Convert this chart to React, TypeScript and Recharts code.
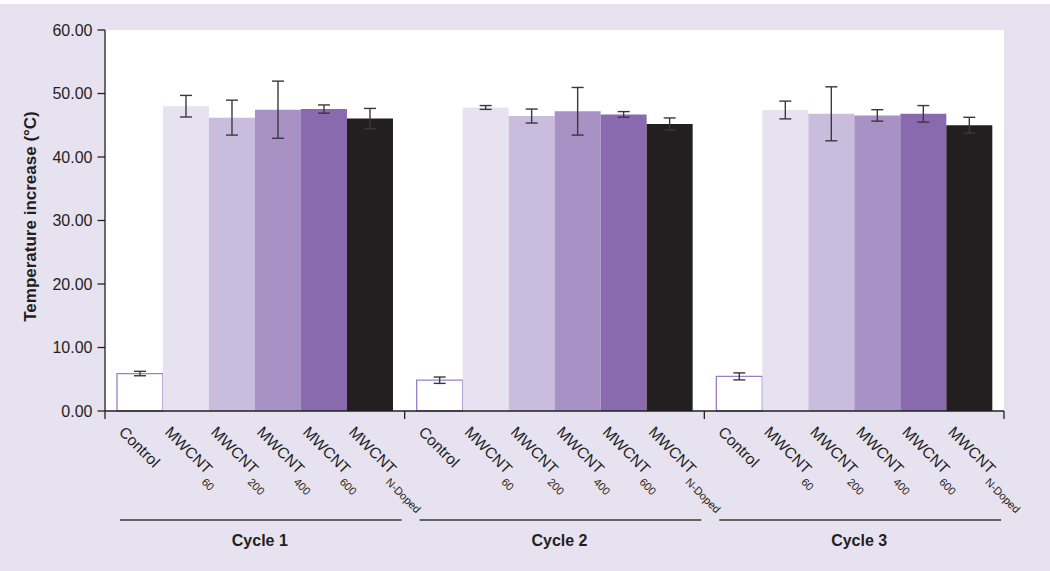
import React from 'react';
import { BarChart, Bar, XAxis, YAxis, CartesianGrid, ErrorBar, LabelList } from 'recharts';

const cycles = ['Cycle 1', 'Cycle 2', 'Cycle 3'];
const yTicks = [0, 10, 20, 30, 40, 50, 60];

const controlVals = [5.9, 4.85, 5.45];
const controlErr = [0.35, 0.5, 0.55];
const m60Vals = [48.0, 47.8, 47.4];
const m60Err = [1.7, 0.3, 1.4];
const m200Vals = [46.2, 46.45, 46.8];
const m200Err = [2.75, 1.1, 4.25];
const m400Vals = [47.45, 47.2, 46.55];
const m400Err = [4.5, 3.75, 0.9];
const m600Vals = [47.55, 46.7, 46.8];
const m600Err = [0.65, 0.45, 1.3];
const ndVals = [46.05, 45.2, 45.0];
const ndErr = [1.6, 0.95, 1.25];

const seriesNames = [
  { key: 'control', main: 'Control', sub: '' },
  { key: 'm60', main: 'MWCNT', sub: '60' },
  { key: 'm200', main: 'MWCNT', sub: '200' },
  { key: 'm400', main: 'MWCNT', sub: '400' },
  { key: 'm600', main: 'MWCNT', sub: '600' },
  { key: 'nd', main: 'MWCNT', sub: 'N-Doped' },
];

const fills: Record<string, string> = {
  control: '#ffffff',
  m60: '#e7e2f0',
  m200: '#c9bcdc',
  m400: '#a891c5',
  m600: '#8a6aae',
  nd: '#231f20',
};

const data = cycles.map((c, i) => ({
  cycle: c,
  control: controlVals[i], controlE: controlErr[i],
  m60: m60Vals[i], m60E: m60Err[i],
  m200: m200Vals[i], m200E: m200Err[i],
  m400: m400Vals[i], m400E: m400Err[i],
  m600: m600Vals[i], m600E: m600Err[i],
  nd: ndVals[i], ndE: ndErr[i],
}));

const W = 1050;
const H = 567;
const X_H = 150;
const MARGIN = { top: 26, right: 46, bottom: 10, left: 0 };
const Y_W = 105;
const PLOT_W = W - MARGIN.left - MARGIN.right - Y_W;
const PLOT_BOTTOM = H - MARGIN.bottom - X_H;
const INK = '#231f20';
const FONT = '"Liberation Sans", Arial, Helvetica, sans-serif';

const BarLabel = (props: any) => {
  const { x, width, y, height, main, sub } = props;
  const bx = Number(x);
  const base = Number(y) + Number(height);
  const px = bx + 1;
  const py = base + 22;
  return (
    <text
      transform={`translate(${px},${py}) rotate(45)`}
      x={0}
      y={0}
      fontFamily={FONT}
      fontSize={15.5}
      fill={INK}
      textAnchor="start"
    >
      {main}
      {sub ? (
        <tspan fontSize={11} dx={2} dy={9}>
          {sub}
        </tspan>
      ) : null}
    </text>
  );
};

const CycleTick = (props: any) => {
  const { x, payload, index } = props;
  const bw = PLOT_W / cycles.length;
  const cx = Number(x);
  const left = cx - bw / 2;
  const right = cx + bw / 2;
  return (
    <g>
      <line x1={left} x2={left} y1={PLOT_BOTTOM} y2={PLOT_BOTTOM + 8} stroke={INK} strokeWidth={1.3} />
      {index === cycles.length - 1 ? (
        <line x1={right} x2={right} y1={PLOT_BOTTOM} y2={PLOT_BOTTOM + 8} stroke={INK} strokeWidth={1.3} />
      ) : null}
      <line x1={left + 15} x2={right - 3} y1={PLOT_BOTTOM + 109} y2={PLOT_BOTTOM + 109} stroke="#3a3738" strokeWidth={1.5} />
      <text x={cx + 5} y={PLOT_BOTTOM + 135} textAnchor="middle" fontFamily={FONT} fontWeight="bold" fontSize={16} fill={INK}>
        {payload.value}
      </text>
    </g>
  );
};

const YLabel = (props: any) => {
  const { viewBox } = props;
  const cx = 30;
  const cy = viewBox.y + viewBox.height / 2 - 4;
  return (
    <text
      transform={`translate(${cx},${cy}) rotate(-90)`}
      x={0}
      y={0}
      textAnchor="middle"
      dominantBaseline="central"
      fontFamily={FONT}
      fontWeight="bold"
      fontSize={17}
      fill={INK}
    >
      Temperature increase (°C)
    </text>
  );
};

export default function App() {
  return (
    <div style={{ position: 'absolute', left: 0, top: 0, width: 1050, height: 571, background: '#ffffff' }}>
      <div style={{ position: 'absolute', left: 0, top: 4, width: W, height: H, background: '#e7e2f0' }}>
        <BarChart
          width={W}
          height={H}
          data={data}
          margin={MARGIN}
          barCategoryGap="4%"
          barGap={0}
        >
          <CartesianGrid horizontal={false} vertical={false} fill="#ffffff" stroke="none" />
          <XAxis
            dataKey="cycle"
            height={X_H}
            axisLine={{ stroke: INK, strokeWidth: 1.3 }}
            tickLine={false}
            tick={(p: any) => <CycleTick {...p} />}
            interval={0}
          />
          <YAxis
            width={Y_W}
            domain={[0, 60]}
            ticks={yTicks}
            tickFormatter={(v: number) => v.toFixed(2)}
            tickSize={7.5}
            tickMargin={5}
            axisLine={{ stroke: INK, strokeWidth: 1.3 }}
            tickLine={{ stroke: INK, strokeWidth: 1.3 }}
            tick={{ fill: INK, fontSize: 16, fontFamily: FONT }}
            label={<YLabel />}
          />
          {seriesNames.map((s) => (
            <Bar
              key={s.key}
              dataKey={s.key}
              fill={fills[s.key]}
              stroke={s.key === 'control' ? '#9b7fc6' : 'none'}
              strokeWidth={s.key === 'control' ? 1.3 : 0}
              isAnimationActive={false}
            >
              <ErrorBar
                dataKey={`${s.key}E`}
                direction="y"
                width={6}
                stroke="#3b383a"
                strokeWidth={1.4}
                isAnimationActive={false}
              />
              <LabelList
                dataKey={s.key}
                content={(p: any) => <BarLabel {...p} main={s.main} sub={s.sub} />}
              />
            </Bar>
          ))}
        </BarChart>
      </div>
    </div>
  );
}
